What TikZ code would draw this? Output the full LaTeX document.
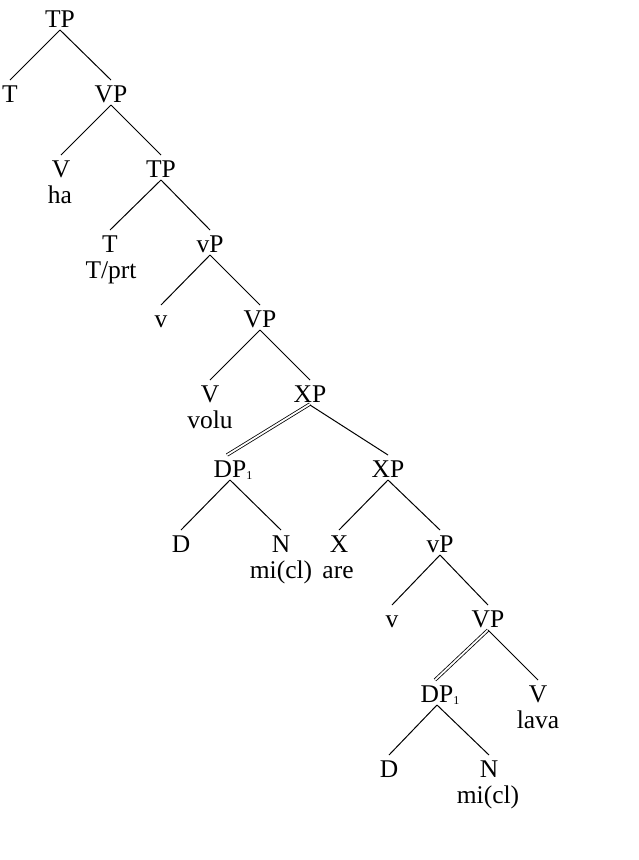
\documentclass[tikz,border=0pt]{standalone}
\usepackage{fontspec}
\setmainfont{Liberation Serif}
\newcommand\treeedge[3][]{\draw[br,#1] ([yshift=-3pt]#2.base) -- ([yshift=22pt]#3.base);}
\newcommand\subone{\rlap{\raisebox{-2pt}{\fontsize{12}{12}\selectfont 1}}}
\begin{document}
\begin{tikzpicture}[x=1pt,y=-1pt,
  lab/.style={anchor=base, inner sep=0pt, font=\fontsize{25.5}{26}\selectfont},
  br/.style={line width=1pt},
  dbl/.style={double, double distance=1.8pt, line width=0.8pt}]
\useasboundingbox (0,0) rectangle (639,860);
% level 0
\node[lab] (tp0) at (60,27) {TP};
% level 1
\node[lab] (t1) at (10,102) {T};
\node[lab] (vp1) at (111,102) {VP};
% level 2
\node[lab] (v2) at (61,177) {V};
\node[lab] (ha) at (60,203) {ha};
\node[lab] (tp2) at (161,177) {TP};
% level 3
\node[lab] (t3) at (110,252) {T};
\node[lab] (tprt) at (111,278) {T/prt};
\node[lab] (vp3) at (210,252) {vP};
% level 4
\node[lab] (v4) at (161,327) {v};
\node[lab] (vp4) at (260,327) {VP};
% level 5
\node[lab] (v5) at (210,402) {V};
\node[lab] (volu) at (210,428) {volu};
\node[lab] (xp5) at (310,402) {XP};
% level 6
\node[lab] (dp6) at (230,477) {DP\subone};
\node[lab] (xp6) at (388,477) {XP};
% level 7
\node[lab] (d7) at (181,552) {D};
\node[lab] (n7) at (281,552) {N};
\node[lab] (micl7) at (281,578) {mi(cl)};
\node[lab] (x7) at (339,552) {X};
\node[lab] (are) at (338,578) {are};
\node[lab] (vp7) at (440,552) {vP};
% level 8
\node[lab] (v8) at (392,627) {v};
\node[lab] (vp8) at (488,627) {VP};
% level 9
\node[lab] (dp9) at (437,702) {DP\subone};
\node[lab] (v9) at (538,702) {V};
\node[lab] (lava) at (538,728) {lava};
% level 10
\node[lab] (d10) at (389,777) {D};
\node[lab] (n10) at (489,777) {N};
\node[lab] (micl10) at (488,803) {mi(cl)};
% edges
\treeedge{tp0}{t1}
\treeedge{tp0}{vp1}
\treeedge{vp1}{v2}
\treeedge{vp1}{tp2}
\treeedge{tp2}{t3}
\treeedge{tp2}{vp3}
\treeedge{vp3}{v4}
\treeedge{vp3}{vp4}
\treeedge{vp4}{v5}
\treeedge{vp4}{xp5}
\draw[dbl] ([yshift=-2pt]xp5.base) -- ([xshift=-3pt,yshift=22pt]dp6.base);
\treeedge{xp5}{xp6}
\treeedge{dp6}{d7}
\treeedge{dp6}{n7}
\treeedge{xp6}{x7}
\treeedge{xp6}{vp7}
\treeedge{vp7}{v8}
\treeedge{vp7}{vp8}
\draw[dbl] ([yshift=-3pt]vp8.base) -- ([xshift=-2pt,yshift=22pt]dp9.base);
\treeedge{vp8}{v9}
\treeedge{dp9}{d10}
\treeedge{dp9}{n10}
\end{tikzpicture}
\end{document}
